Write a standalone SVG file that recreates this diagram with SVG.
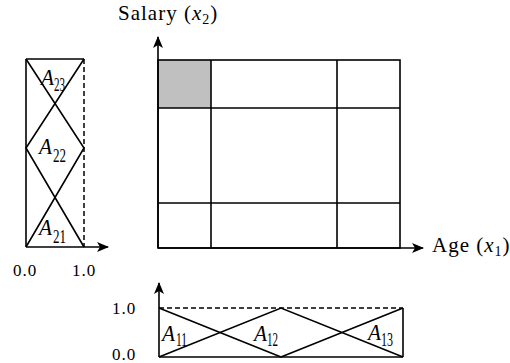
<svg xmlns="http://www.w3.org/2000/svg" width="510" height="363" viewBox="0 0 510 363">
<defs>
<marker id="ah" viewBox="0 0 12 10" refX="11" refY="5" markerWidth="13" markerHeight="10" markerUnits="userSpaceOnUse" orient="auto">
<path d="M0,0 L12,5 L0,10 L3,5 Z" fill="#000"/>
</marker>
<style>
.ln{stroke:#000;stroke-width:1.6;fill:none}
.ds{stroke:#000;stroke-width:1.5;fill:none;stroke-dasharray:5,3}
text{font-family:"Liberation Serif","Times New Roman","DejaVu Serif",serif;fill:#000}
.t{font-size:21px;letter-spacing:1px}
.tk{font-size:17px;letter-spacing:1px}
.a{font-size:23px;font-style:italic}
.s{font-size:18px}
.i{font-style:italic}
</style>
</defs>
<rect width="510" height="363" fill="#fff"/>

<g id="main-grid">
<rect x="158" y="60" width="53" height="48" fill="#c0c0c0"/>
<rect x="158" y="60" width="242" height="188" class="ln"/>
<line x1="211" y1="60" x2="211" y2="248" class="ln"/>
<line x1="337" y1="60" x2="337" y2="248" class="ln"/>
<line x1="158" y1="108" x2="400" y2="108" class="ln"/>
<line x1="158" y1="203" x2="400" y2="203" class="ln"/>
</g>

<g id="left-panel">
<line x1="26" y1="59" x2="84" y2="59" class="ln"/>
<line x1="84" y1="59" x2="84" y2="247" class="ds"/>
<polyline points="26,247 84,148 26,59" class="ln"/>
<polyline points="84,247 26,148 84,59" class="ln"/>
<text class="a" x="41" y="85" textLength="13" lengthAdjust="spacingAndGlyphs">A</text>
<text class="s" x="54" y="91" textLength="11" lengthAdjust="spacingAndGlyphs">23</text>
<text class="a" x="39" y="154" textLength="13" lengthAdjust="spacingAndGlyphs">A</text>
<text class="s" x="53" y="162" textLength="13" lengthAdjust="spacingAndGlyphs">22</text>
<text class="a" x="39" y="235" textLength="13" lengthAdjust="spacingAndGlyphs">A</text>
<text class="s" x="53" y="243" textLength="13" lengthAdjust="spacingAndGlyphs">21</text>
<text class="tk" x="13" y="276">0.0</text>
<text class="tk" x="72" y="276">1.0</text>
</g>

<g id="bottom-panel">
<line x1="159" y1="308" x2="403" y2="308" class="ds"/>
<line x1="403" y1="308" x2="403" y2="357" class="ln"/>
<polyline points="159,308 281,357" class="ln"/>
<polyline points="159,357 281,308 403,357" class="ln"/>
<polyline points="281,357 403,308" class="ln"/>
<text class="a" x="162" y="341" textLength="13" lengthAdjust="spacingAndGlyphs">A</text>
<text class="s" x="176" y="346" textLength="11" lengthAdjust="spacingAndGlyphs">11</text>
<text class="a" x="254" y="341" textLength="13" lengthAdjust="spacingAndGlyphs">A</text>
<text class="s" x="267" y="346" textLength="11" lengthAdjust="spacingAndGlyphs">12</text>
<text class="a" x="368" y="340" textLength="13" lengthAdjust="spacingAndGlyphs">A</text>
<text class="s" x="381" y="346" textLength="12" lengthAdjust="spacingAndGlyphs">13</text>
<text class="tk" x="112" y="314">1.0</text>
<text class="tk" x="112" y="360">0.0</text>
</g>

<g id="labels">
<text class="t" x="118" y="20" letter-spacing="1.5">Salary (<tspan class="i">x</tspan><tspan font-size="14" dy="4">2</tspan><tspan dy="-4">)</tspan></text>
<text class="t" x="432" y="252">Age (<tspan class="i">x</tspan><tspan font-size="14" dy="4">1</tspan><tspan dy="-4">)</tspan></text>
</g>

<g id="connectors">
<line x1="158" y1="248" x2="158" y2="37" class="ln" marker-end="url(#ah)"/>
<line x1="158" y1="248" x2="423" y2="248" class="ln" marker-end="url(#ah)"/>
<line x1="26" y1="247" x2="26" y2="59" class="ln"/>
<line x1="26" y1="247" x2="108" y2="247" class="ln" marker-end="url(#ah)"/>
<line x1="159" y1="357" x2="159" y2="283" class="ln" marker-end="url(#ah)"/>
<line x1="159" y1="357" x2="403" y2="357" class="ln"/>
</g>
</svg>
